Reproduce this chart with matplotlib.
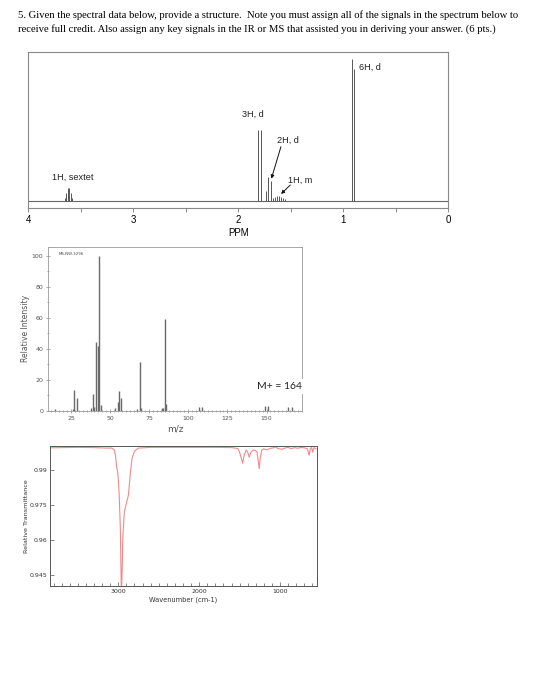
import numpy as np
import matplotlib
matplotlib.use("Agg")
import matplotlib.pyplot as plt
from matplotlib.ticker import MultipleLocator, FixedLocator

# ---- 1H NMR peaks (ppm, height) ----
nmr_ppm = [3.655, 3.640, 3.625, 3.610, 3.595, 3.580,
           1.810, 1.787,
           1.736, 1.714, 1.691,
           1.670, 1.650, 1.630, 1.610, 1.590, 1.572, 1.555,
           0.920, 0.898]
nmr_height = [3, 8, 13, 13, 8, 3,
              71, 71,
              10, 24, 20,
              3, 4, 5, 5, 4, 3, 2,
              142, 132]
nmr_ticks = [4, 3, 2, 1, 0]

# ---- mass spectrum ----
ms_mz = [15, 26, 27, 29, 38, 39, 40, 41, 42, 43, 44, 53, 55, 56, 57, 67, 69, 70,
         83, 84, 85, 86, 107, 109, 149, 151, 164, 166]
ms_int = [1, 1, 13.5, 8, 1.5, 11, 2.5, 44, 42, 100, 3.5, 2, 5.5, 12.5, 8.5, 1, 31.5, 2,
          1.5, 2, 59, 4, 2.5, 2.5, 3, 3, 2.5, 2.5]
ms_xticks = [25, 50, 75, 100, 125, 150]
ms_yticks = [0, 20, 40, 60, 80, 100]

# ---- IR trace (wavenumber, transmittance) ----
ir_wn = [3845, 3700, 3500, 3300, 3150, 3080, 3050, 3035, 3020, 3005, 2990, 2975,
         2962, 2950, 2946, 2925, 2905, 2876, 2860, 2847, 2830, 2800, 2750, 2600,
         2200, 1800, 1600, 1540, 1520, 1500, 1480, 1462, 1445, 1420, 1400, 1380,
         1360, 1330, 1300, 1285, 1270, 1257, 1245, 1226, 1200, 1160, 1120, 1080,
         1060, 1020, 975, 940, 900, 860, 820, 780, 740, 700, 660, 640, 625, 610,
         595, 580, 555]
ir_t = [0.9994, 0.9995, 0.9996, 0.9995, 0.9993, 0.9993, 0.9985, 0.9960, 0.9910,
        0.9884, 0.9800, 0.9650, 0.9360, 0.9500, 0.9600, 0.9720, 0.9750, 0.9790,
        0.9850, 0.9900, 0.9950, 0.9980, 0.9993, 0.9996, 0.9996, 0.9996, 0.9995,
        0.9992, 0.9990, 0.9975, 0.9950, 0.9928, 0.9960, 0.9985, 0.9975, 0.9954,
        0.9975, 0.9985, 0.9982, 0.9975, 0.9940, 0.9905, 0.9950, 0.9985, 0.9990,
        0.9985, 0.9992, 0.9994, 0.9998, 0.9990, 0.9988, 0.9993, 0.9996, 0.9990,
        0.9995, 0.9992, 0.9996, 0.9994, 0.9990, 0.9962, 0.9992, 0.9995, 0.9975,
        0.9995, 0.9990]
ir_xticks = [3000, 2000, 1000]
ir_yticks = [0.945, 0.96, 0.975, 0.99]

W, H = 553, 700
fig = plt.figure(figsize=(W / 100, H / 100), dpi=100)
fig.patch.set_facecolor("white")


def box(x0, y0, x1, y1):
    return fig.add_axes([x0 / W, 1 - y1 / H, (x1 - x0) / W, (y1 - y0) / H])


def ftext(x, y, s, **kw):
    fig.text(x / W, 1 - y / H, s, **kw)


serif = "Liberation Serif"
sans = "Liberation Sans"

# header
ftext(18, 15, "5. Given the spectral data below, provide a structure.  Note you must assign all of the "
      "signals in the spectrum below to", family=serif, fontsize=7.7, va="center")
ftext(18, 29, "receive full credit. Also assign any key signals in the IR or MS that assisted you in "
      "deriving your answer. (6 pts.)", family=serif, fontsize=7.7, va="center")

# ---------------- NMR ----------------
ax = box(28.3, 51.7, 448.3, 208.3)
ax.set_xlim(4, 0)
ax.set_ylim(-7.6, 149)
ax.axhline(0, color="#666", lw=0.8)
ax.vlines(nmr_ppm, 0, nmr_height, color="#555", lw=0.7)
for sp in ax.spines.values():
    sp.set_color("#888")
    sp.set_linewidth(0.8)
ax.set_yticks([])
ax.xaxis.set_major_locator(FixedLocator(nmr_ticks))
ax.xaxis.set_minor_locator(MultipleLocator(0.5))
ax.tick_params(axis="x", which="both", length=3, width=0.6, color="#777",
               labelsize=7, pad=2)
ax.set_xticklabels([str(t) for t in nmr_ticks], family=sans)
ax.set_xlabel("PPM", family=sans, fontsize=7, labelpad=2)

lab = dict(family=sans, fontsize=6.6, color="#222")
ax.text(0.85, 133.4, "6H, d", ha="left", va="center", **lab)
ax.text(1.86, 86.7, "3H, d", ha="center", va="center", **lab)
ax.text(1.53, 60.7, "2H, d", ha="center", va="center", **lab)
ax.text(1.41, 20, "1H, m", ha="center", va="center", **lab)
ax.text(3.576, 23.7, "1H, sextet", ha="center", va="center", **lab)
arr = dict(arrowstyle="-|>", lw=0.7, color="#111", mutation_scale=5, shrinkA=0, shrinkB=0)
ax.annotate("", xy=(1.685, 22), xytext=(1.594, 54), arrowprops=arr)
ax.annotate("", xy=(1.593, 6.7), xytext=(1.505, 15.7), arrowprops=arr)

# ---------------- MS ----------------
ms = box(48.3, 247, 301.7, 410.7)
ms.set_xlim(10.5, 172.5)
ms.set_ylim(0, 105.6)
ms.vlines(ms_mz, 0, ms_int, color="#6a6a6a", lw=1.0)
for sp in ms.spines.values():
    sp.set_color("#999")
    sp.set_linewidth(0.6)
ms.set_xticks(ms_xticks)
ms.set_yticks(ms_yticks)
ms.xaxis.set_minor_locator(MultipleLocator(2.5))
ms.yaxis.set_minor_locator(MultipleLocator(10))
ms.tick_params(which="both", direction="inout", color="#888", width=0.5,
               labelsize=4.5, labelcolor="#555", pad=2)
ms.tick_params(which="major", length=3)
ms.tick_params(which="minor", length=2)
ms.set_xlabel("m/z", fontsize=6.5, color="#555", labelpad=3)
ms.set_ylabel("Relative Intensity", fontsize=5.5, color="#555", labelpad=1)
ms.text(0.04, 0.955, "MS-NW-3296", transform=ms.transAxes, fontsize=2.8,
        color="#444", va="center")
ms.text(1.0, 0.148, "M+ = 164", transform=ms.transAxes, ha="right", va="center",
        family="Lato", fontsize=7.5, color="#222",
        bbox=dict(facecolor="white", edgecolor="none", pad=2.5), clip_on=False)

# ---------------- IR ----------------
ir = box(50, 445.5, 316.5, 586)
ir.set_xlim(3845, 549)
ir.set_ylim(0.9402, 1.0004)
ir.plot(ir_wn, ir_t, color="#f08a8a", lw=0.8)
for sp in ir.spines.values():
    sp.set_color("#555")
    sp.set_linewidth(0.7)
ir.set_xticks(ir_xticks)
ir.set_yticks(ir_yticks)
ir.set_yticklabels(["0.945", "0.96", "0.975", "0.99"])
ir.xaxis.set_minor_locator(MultipleLocator(100))
ir.tick_params(which="both", direction="in", color="#555", width=0.5,
               labelsize=4.5, labelcolor="#333", pad=2)
ir.tick_params(which="major", length=3)
ir.tick_params(which="minor", length=2)
ir.set_xlabel("Wavenumber (cm-1)", fontsize=4.8, color="#333", labelpad=2)
ir.set_ylabel("Relative Transmittance", fontsize=4.6, color="#333", labelpad=0)

fig.savefig("out.png", dpi=100, facecolor="white")
